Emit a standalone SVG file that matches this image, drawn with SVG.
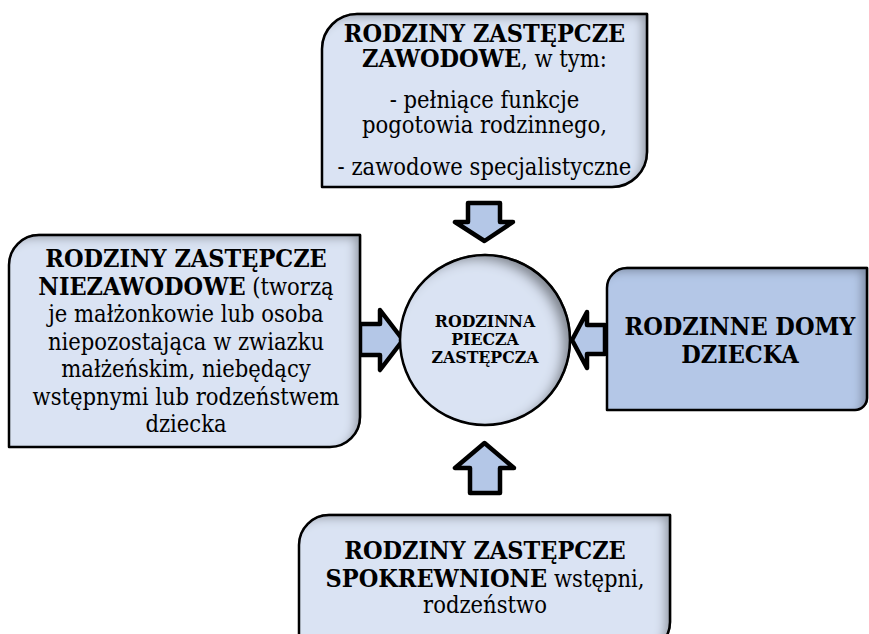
<svg xmlns="http://www.w3.org/2000/svg" width="869" height="634" viewBox="0 0 869 634">
<style>
  .box { stroke: #000; stroke-width: 2.5; stroke-linejoin: round; }
  .light { fill: #dae3f3; }
  .dark { fill: #b4c7e7; }
  .arrow { fill: #b4c7e7; stroke: #000; stroke-width: 4.5; stroke-linejoin: round; }
  text { font-family: 'DejaVu Serif Condensed', 'DejaVu Serif', serif; font-stretch: condensed; fill: #000; text-anchor: middle; }
  .t { font-size: 23.5px; }
  .b { font-weight: bold; font-size: 25px; }
  .c { font-size: 17.5px; font-weight: bold; }
</style>
<defs>
  <filter id="inset" x="-10%" y="-10%" width="120%" height="120%">
    <feFlood flood-color="#000" flood-opacity="0.55" result="f"/>
    <feComposite in="f" in2="SourceAlpha" operator="out" result="o"/>
    <feOffset in="o" dx="-7" dy="5" result="off"/>
    <feGaussianBlur in="off" stdDeviation="5" result="bl"/>
    <feComposite in="bl" in2="SourceAlpha" operator="in" result="sh"/>
    <feMerge><feMergeNode in="SourceGraphic"/><feMergeNode in="sh"/></feMerge>
  </filter>
  <filter id="insetc" x="-10%" y="-10%" width="120%" height="120%">
    <feFlood flood-color="#000" flood-opacity="0.7" result="f"/>
    <feComposite in="f" in2="SourceAlpha" operator="out" result="o"/>
    <feOffset in="o" dx="-9" dy="6" result="off"/>
    <feGaussianBlur in="off" stdDeviation="6" result="bl"/>
    <feComposite in="bl" in2="SourceAlpha" operator="in" result="sh"/>
    <feMerge><feMergeNode in="SourceGraphic"/><feMergeNode in="sh"/></feMerge>
  </filter>
</defs>
<rect width="869" height="634" fill="#fff"/>

<g id="connectors">
  <path class="arrow" d="M468,203 H500 V222 H513 L484.5,241 L455,222 H468 Z"/>
  <path class="arrow" d="M470,493 H500 V468 H514 L484.5,443 L455,468 H470 Z"/>
  <path class="arrow" d="M360,324 H380 V310 L403,340 L380,370 V355 H360 Z"/>
  <path class="arrow" d="M605,325 H587 V312 L572,340 L587,368 V354 H605 Z"/>
</g>

<g id="node-top">
  <path class="box light" filter="url(#inset)" d="M322,187 V49 A35,35 0 0 1 357,14 H647 V152 A35,35 0 0 1 612,187 Z"/>
  <text class="t b" x="484.5" y="42">RODZINY ZASTĘPCZE</text>
  <text class="t" x="484.5" y="67"><tspan class="b">ZAWODOWE</tspan>, w tym:</text>
  <text class="t" x="484.5" y="108">- pełniące funkcje</text>
  <text class="t" x="484.5" y="133">pogotowia rodzinnego,</text>
  <text class="t" x="484.5" y="175">- zawodowe specjalistyczne</text>
</g>

<g id="node-left">
  <path class="box light" filter="url(#inset)" d="M9,447 V265 A30,30 0 0 1 39,235 H360 V417 A30,30 0 0 1 330,447 Z"/>
  <text class="t b" x="186" y="267">RODZINY ZASTĘPCZE</text>
  <text class="t" x="186" y="295"><tspan class="b">NIEZAWODOWE</tspan> (tworzą</text>
  <text class="t" x="186" y="322">je małżonkowie lub osoba</text>
  <text class="t" x="186" y="350">niepozostająca w zwiazku</text>
  <text class="t" x="186" y="377">małżeńskim, niebędący</text>
  <text class="t" x="186" y="405">wstępnymi lub rodzeństwem</text>
  <text class="t" x="186" y="432">dziecka</text>
</g>

<g id="node-right">
  <path class="box dark" filter="url(#inset)" d="M607,410 V288 A20,20 0 0 1 627,268 H867 V398 A12,12 0 0 1 855,410 Z"/>
  <text class="t b" x="740" y="335">RODZINNE DOMY</text>
  <text class="t b" x="740" y="363">DZIECKA</text>
</g>

<g id="node-bottom">
  <path class="box light" filter="url(#inset)" d="M299,660 V545 A30,30 0 0 1 329,515 H670 V622 A30,30 0 0 1 640,652 Z"/>
  <text class="t b" x="485" y="559">RODZINY ZASTĘPCZE</text>
  <text class="t" x="485" y="587"><tspan class="b">SPOKREWNIONE</tspan> wstępni,</text>
  <text class="t" x="485" y="613">rodzeństwo</text>
</g>

<g id="node-center">
  <circle class="box light" filter="url(#insetc)" cx="485" cy="340" r="85"/>
  <text class="c" x="485" y="327">RODZINNA</text>
  <text class="c" x="485" y="345">PIECZA</text>
  <text class="c" x="485" y="363">ZASTĘPCZA</text>
</g>
</svg>
